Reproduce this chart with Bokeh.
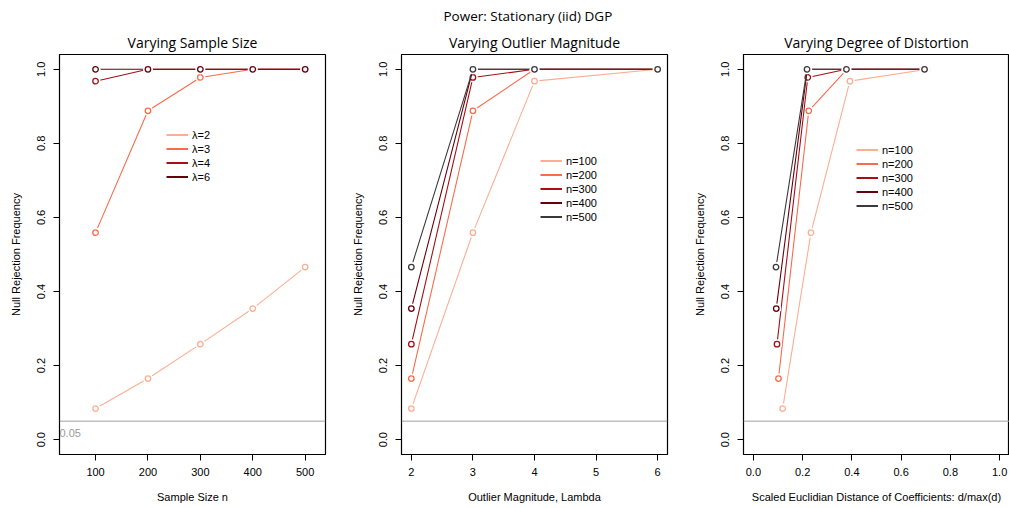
from bokeh.plotting import figure
from bokeh.models import (Range1d, FixedTicker, PrintfTickFormatter, Span, Title,
                          Legend, LegendItem, ColumnDataSource)
from bokeh.layouts import row
from bokeh.embed import file_html
from bokeh.resources import INLINE
from bokeh.core.properties import value

# ---------------- data ----------------
sample_sizes = [100, 200, 300, 400, 500]
lambdas = [2, 3, 4, 6]
# power[lambda][n]
power_l2 = [0.084, 0.165, 0.258, 0.354, 0.466]
power_l3 = [0.559, 0.888, 0.978, 1.0, 1.0]
power_l4 = [0.968, 1.0, 1.0, 1.0, 1.0]
power_l6 = [1.0, 1.0, 1.0, 1.0, 1.0]
power_by_lambda = [power_l2, power_l3, power_l4, power_l6]
lambda_labels = ["λ=2", "λ=3", "λ=4", "λ=6"]
n_labels = ["n=100", "n=200", "n=300", "n=400", "n=500"]
# scaled distance d/max(d) per n series, one per lambda (2,3,4,6)
dist_n100 = [0.119, 0.234, 0.392, 0.706]
dist_n200 = [0.102, 0.225, 0.380, 0.700]
dist_n300 = [0.096, 0.221, 0.378, 0.697]
dist_n400 = [0.093, 0.219, 0.378, 0.695]
dist_n500 = [0.092, 0.218, 0.378, 0.695]
dists = [dist_n100, dist_n200, dist_n300, dist_n400, dist_n500]
alpha_level = 0.05

colors = ["#FCAE91", "#FB6A4A", "#A50F15", "#67000D", "#3A3A3A"]

FONT = "Liberation Sans"
TFONT = "Open Sans"


def make_fig(width, border_left, border_right, xr, xticks, xfmt, xlabel, title):
    p = figure(width=width, height=508, output_backend="svg", toolbar_location=None,
               x_range=Range1d(*xr), y_range=Range1d(-0.04, 1.04),
               min_border_left=border_left, min_border_right=border_right,
               min_border_top=54, min_border_bottom=54)
    p.grid.visible = False
    p.outline_line_color = "black"
    p.outline_line_width = 1.2
    p.background_fill_color = "white"
    p.border_fill_color = "white"
    p.title.text = title
    p.title.align = "center"
    p.title.text_font = TFONT
    p.title.text_font_size = "14px"
    p.title.text_font_style = "normal"
    p.title.text_color = "black"
    p.title.standoff = 6
    for ax in (p.xaxis[0], p.yaxis[0]):
        ax.major_tick_out = 6
        ax.major_tick_in = 0
        ax.minor_tick_line_color = None
        ax.axis_line_color = "black"
        ax.major_label_text_font = FONT
        ax.major_label_text_font_size = "11px"
        ax.major_label_text_color = "black"
        ax.axis_label_text_font = FONT
        ax.axis_label_text_font_size = "11px"
        ax.axis_label_text_font_style = "normal"
        ax.axis_label_text_color = "black"
    p.xaxis.ticker = FixedTicker(ticks=xticks)
    p.xaxis.formatter = PrintfTickFormatter(format=xfmt)
    p.xaxis.axis_label = xlabel
    p.xaxis.major_label_standoff = 7
    p.xaxis.axis_label_standoff = 12
    p.yaxis.ticker = FixedTicker(ticks=[0, 0.2, 0.4, 0.6, 0.8, 1.0])
    p.yaxis.formatter = PrintfTickFormatter(format="%.1f")
    p.yaxis.major_label_orientation = "vertical"
    p.yaxis.axis_label = "Null Rejection Frequency"
    p.yaxis.major_label_standoff = 8
    p.yaxis.axis_label_standoff = 13
    p.add_layout(Span(location=alpha_level, dimension="width", line_color="#A0A0A0", line_width=1))
    return p


def add_series(p, xs, ys, color):
    src = ColumnDataSource(dict(x=xs, y=ys))
    p.line("x", "y", source=src, line_color=color, line_width=1.1)
    p.scatter("x", "y", source=src, size=10, fill_color="white", line_color=None)
    p.scatter("x", "y", source=src, size=5.5, fill_color="white", line_color=color, line_width=1.3)
    # legend-only renderer: hidden in the plot, drawn only as the legend key
    key = p.line("x", "y", source=src, line_color=color, line_width=2, visible=False)
    return key


def add_legend(p, labels, keys, x, y):
    items = [LegendItem(label=lab, renderers=[r]) for lab, r in zip(labels, keys)]
    lg = Legend(items=items, location=(x, y), orientation="vertical",
                border_line_color=None, background_fill_alpha=0,
                inactive_fill_alpha=0, click_policy="none",
                label_text_font=FONT, label_text_font_size="11px", label_text_color="black",
                glyph_width=22, glyph_height=13, label_height=13, label_standoff=4,
                spacing=1, padding=0, margin=0)
    p.add_layout(lg, "center")


# Panel 1: varying sample size
p1 = make_fig(342, 59, 17, (31.2, 538.8), sample_sizes, "%d", "Sample Size n", "Varying Sample Size")
keys1 = [add_series(p1, sample_sizes, ys, c) for ys, c in zip(power_by_lambda, colors)]
add_legend(p1, lambda_labels, keys1, 107, 271)
p1.text(x=[p1.x_range.start], y=[alpha_level], text=["0.05"], text_align="left",
        text_baseline="top", y_offset=8, text_color="#999999",
        text_font=value(FONT), text_font_size="11px")

# Panel 2: varying outlier magnitude
p2 = make_fig(342, 59, 17, (1.84, 6.16), [2, 3, 4, 5, 6], "%d", "Outlier Magnitude, Lambda",
              "Power: Stationary (iid) DGP")
keys2 = []
for j, c in enumerate(colors):
    ys = [power_by_lambda[i][j] for i in range(len(lambdas))]
    keys2.append(add_series(p2, lambdas, ys, c))
add_legend(p2, n_labels, keys2, 139, 231)
p2.title.text_font_size = "13.5px"
p2.title.align = "left"
p2.title.offset = 42
p2.title.standoff = 5
sub2 = Title(text="Varying Outlier Magnitude", align="center", text_font=TFONT,
             text_font_size="14px", text_font_style="normal", text_color="black", standoff=6)
p2.add_layout(sub2, "above")

# Panel 3: varying degree of distortion
p3 = make_fig(325, 59, 0, (-0.04, 1.04), [0, 0.2, 0.4, 0.6, 0.8, 1.0], "%.1f",
              "Scaled Euclidian Distance of Coefficients: d/max(d)", "Varying Degree of Distortion")
keys3 = []
for j, c in enumerate(colors):
    ys = [power_by_lambda[i][j] for i in range(len(lambdas))]
    keys3.append(add_series(p3, dists[j], ys, c))
add_legend(p3, n_labels, keys3, 113, 242)

layout = row(p1, p2, p3, spacing=0)
open("out.html", "w").write(file_html(layout, INLINE))
